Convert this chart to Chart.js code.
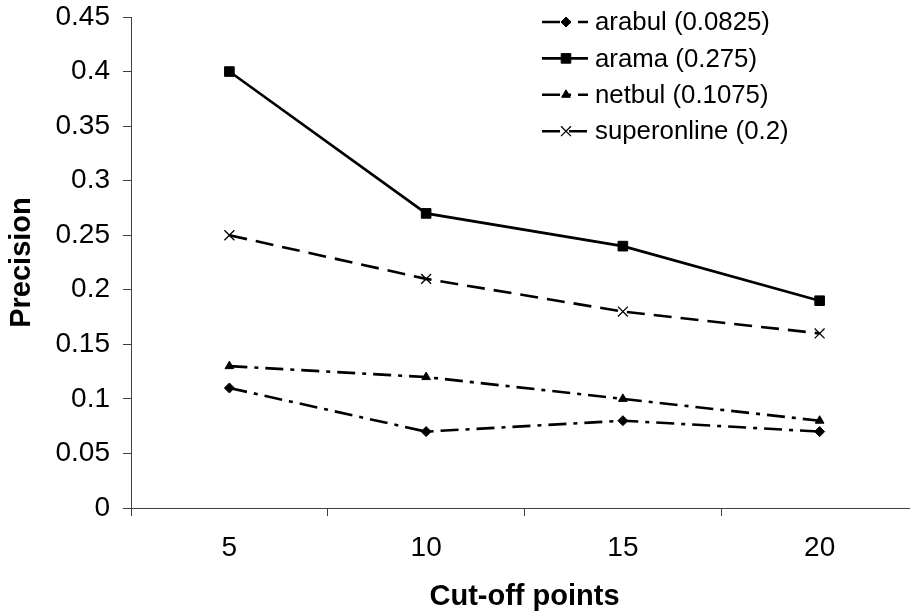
<!DOCTYPE html>
<html><head><meta charset="utf-8">
<script src="https://cdn.jsdelivr.net/npm/chart.js@4.4.1/dist/chart.umd.min.js"></script>
<style>
html,body{margin:0;padding:0;background:#fff;overflow:hidden;width:910px;height:616px}
canvas{display:block}
</style></head>
<body><canvas id="c" width="930" height="616"></canvas>
<script>
const categories = ['5', '10', '15', '20'];
const seriesNames = ['arabul (0.0825)', 'arama (0.275)', 'netbul (0.1075)', 'superonline (0.2)'];
const arabul = [0.11, 0.07, 0.08, 0.07];
const arama = [0.40, 0.27, 0.24, 0.19];
const netbul = [0.13, 0.12, 0.10, 0.08];
const superonline = [0.25, 0.21, 0.18, 0.16];
const yMin = 0, yMax = 0.45, yStep = 0.05;
const xTitle = 'Cut-off points';
const yTitle = 'Precision';

const FONT = "'Liberation Sans', Arial, sans-serif";
const dashDot = [18, 7, 4, 7];

const datasets = [
  { label: seriesNames[0], data: arabul, borderDash: dashDot, pointStyle: 'rectRot', pointRadius: 5, pointBorderWidth: 1 },
  { label: seriesNames[1], data: arama, borderDash: [], pointStyle: 'rect', pointRadius: 6.8, pointBorderWidth: 1 },
  { label: seriesNames[2], data: netbul, borderDash: dashDot, pointStyle: 'triangle', pointRadius: 5, pointBorderWidth: 1 },
  { label: seriesNames[3], data: superonline, borderDash: [18, 9], pointStyle: 'crossRot', pointRadius: 7, pointBorderWidth: 1.3 }
].map(d => Object.assign({
  borderColor: '#000', backgroundColor: '#000', borderWidth: 2.6,
  pointBackgroundColor: '#000', pointBorderColor: '#000', tension: 0, fill: false
}, d));

const legendPlugin = {
  id: 'inlineLegend',
  afterDraw(chart) {
    const ctx = chart.ctx;
    const x0 = 542, x1 = 588, xm = 566, tx = 595, y0 = 22, dy = 36.4;
    chart.data.datasets.forEach((ds, i) => {
      const y = y0 + i * dy;
      ctx.save();
      ctx.strokeStyle = '#000';
      ctx.lineWidth = ds.borderWidth;
      ctx.setLineDash(ds.borderDash || []);
      ctx.beginPath(); ctx.moveTo(x0, y); ctx.lineTo(x1, y); ctx.stroke();
      ctx.setLineDash([]);
      ctx.fillStyle = '#000'; ctx.strokeStyle = '#000';
      ctx.lineWidth = ds.pointBorderWidth;
      Chart.helpers.drawPoint(ctx, { pointStyle: ds.pointStyle, radius: ds.pointRadius, rotation: 0, borderWidth: ds.pointBorderWidth }, xm, y);
      ctx.fillStyle = '#000';
      ctx.font = '25.8px ' + FONT;
      ctx.textBaseline = 'middle';
      ctx.textAlign = 'left';
      ctx.fillText(ds.label, tx, y + 1);
      ctx.restore();
    });
  }
};

new Chart(document.getElementById('c'), {
  type: 'line',
  data: { labels: categories, datasets },
  plugins: [legendPlugin],
  options: {
    responsive: false,
    animation: false,
    devicePixelRatio: 1,
    layout: { padding: { left: 0, right: 12, top: 17, bottom: 0 } },
    plugins: { legend: { display: false }, tooltip: { enabled: false } },
    scales: {
      x: {
        type: 'category',
        offset: true,
        grid: { offset: true, drawOnChartArea: false, drawTicks: true, tickLength: 8, color: '#404040', lineWidth: 1 },
        border: { display: true, color: '#404040', width: 1 },
        ticks: { color: '#000', font: { family: FONT, size: 28 }, padding: 15, maxRotation: 0 },
        title: { display: true, text: xTitle, color: '#000', font: { family: FONT, size: 29, weight: 'bold' }, padding: { top: 0, bottom: 2 } },
        afterFit(s) { s.height = 108; }
      },
      y: {
        min: yMin, max: yMax,
        grid: { drawOnChartArea: false, drawTicks: true, tickLength: 8, color: '#404040', lineWidth: 1 },
        border: { display: true, color: '#404040', width: 1 },
        ticks: { stepSize: yStep, color: '#000', font: { family: FONT, size: 28 }, padding: 13,
          callback: v => String(Number(v.toFixed(2))) },
        title: { display: true, text: yTitle, color: '#000', font: { family: FONT, size: 29, weight: 'bold' }, padding: { top: 5, bottom: 0 } },
        afterFit(s) { s.width = 131; s.paddingTop = 0; s.paddingBottom = 0; }
      }
    }
  }
});
</script>
</body></html>
